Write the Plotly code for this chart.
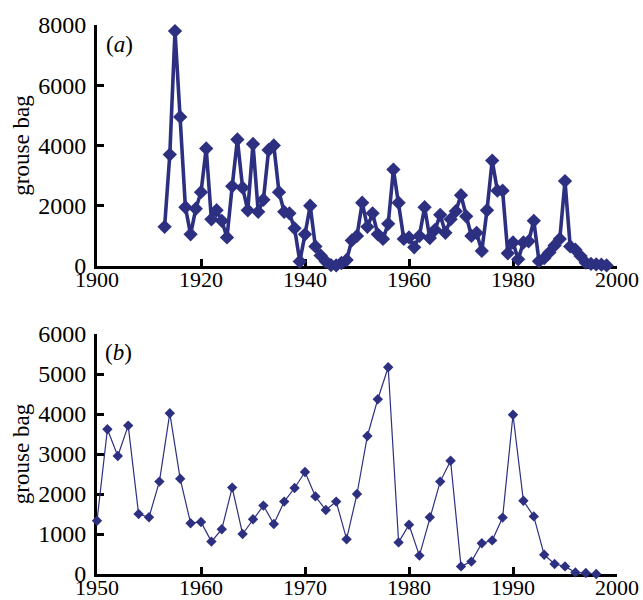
import plotly.graph_objects as go

# Panel (a) data
years_a = list(range(1913, 1999))
bag_a = [1300, 3700, 7800, 4950, 1950, 1050, 1900, 2450, 3900, 1550,
         1850, 1500, 950, 2650, 4200, 2600, 1850, 4050, 1800, 2200,
         3850, 4000, 2450, 1800, 1750, 1250, 150, 1050, 2000, 650,
         350, 150, 30, 20, 100, 200, 850, 1000, 2100, 1300,
         1750, 1050, 900, 1400, 3200, 2100, 900, 950, 620, 1000,
         1950, 930, 1200, 1700, 1100, 1550, 1820, 2350, 1650, 1000,
         1100, 500, 1850, 3500, 2500, 2500, 420, 780, 220, 780,
         820, 1500, 160, 260, 450, 680, 900, 2820, 650, 540,
         330, 110, 70, 55, 45, 20]

# Panel (b) data
years_b = list(range(1950, 1999))
bag_b = [1330, 3620, 2950, 3710, 1500, 1420, 2310, 4020, 2380, 1270,
         1300, 810, 1120, 2160, 1000, 1370, 1710, 1250, 1810, 2150,
         2550, 1940, 1600, 1810, 870, 2000, 3450, 4370, 5170, 790,
         1230, 460, 1420, 2310, 2830, 190, 310, 770, 840, 1410,
         3980, 1830, 1440, 480, 250, 190, 40, 25, 0]

xticks_a = [1900, 1920, 1940, 1960, 1980, 2000]
yticks_a = [0, 2000, 4000, 6000, 8000]
xticks_b = [1950, 1960, 1970, 1980, 1990, 2000]
yticks_b = [0, 1000, 2000, 3000, 4000, 5000, 6000]

COL = "#2d3080"
FONT = "Liberation Serif"
W, H = 643, 600

fig = go.Figure()
fig.add_trace(go.Scatter(x=years_a, y=bag_a, mode="lines+markers",
                         line=dict(color=COL, width=3.6),
                         marker=dict(symbol="diamond", size=11, color=COL),
                         cliponaxis=False, xaxis="x", yaxis="y", showlegend=False))
fig.add_trace(go.Scatter(x=years_b, y=bag_b, mode="lines+markers",
                         line=dict(color=COL, width=1.2),
                         marker=dict(symbol="diamond", size=8, color=COL),
                         cliponaxis=False, xaxis="x2", yaxis="y2", showlegend=False))

common = dict(showline=True, linecolor="black", linewidth=3, mirror=False,
              ticks="inside", ticklen=7, tickwidth=2.5, tickcolor="black",
              showgrid=False, zeroline=False, automargin=False, layer="below traces")
xcommon = dict(common, tickfont=dict(family=FONT, size=22, color="black"), ticklabelstandoff=-8)
ycommon = dict(common, tickfont=dict(family=FONT, size=24, color="black"), ticklabelstandoff=3)
title_font = dict(family=FONT, size=23, color="black")

xd = [97 / W, 617 / W]
fig.update_layout(
    width=W, height=H,
    margin=dict(l=0, r=0, t=0, b=0),
    paper_bgcolor="white", plot_bgcolor="white",
    xaxis=dict(domain=xd, range=[1900, 2000], tickvals=xticks_a, anchor="y", **xcommon),
    yaxis=dict(domain=[1 - 266 / H, 1 - 25 / H], range=[0, 8000], tickvals=yticks_a, anchor="x",
               title=dict(text="grouse bag", font=title_font, standoff=3), **ycommon),
    xaxis2=dict(domain=xd, range=[1950, 2000], tickvals=xticks_b, anchor="y2", **xcommon),
    yaxis2=dict(domain=[1 - 574 / H, 1 - 334 / H], range=[0, 6000], tickvals=yticks_b, anchor="x2",
                title=dict(text="grouse bag", font=title_font, standoff=3), **ycommon),
    annotations=[
        dict(text="(<i>a</i>)", x=104 / W, y=1 - 45 / H, xref="paper", yref="paper",
             xanchor="left", yanchor="middle", showarrow=False,
             font=dict(family=FONT, size=23, color="black")),
        dict(text="(<i>b</i>)", x=103 / W, y=1 - 352 / H, xref="paper", yref="paper",
             xanchor="left", yanchor="middle", showarrow=False,
             font=dict(family=FONT, size=23, color="black")),
    ],
)

fig.write_html("out.html")
